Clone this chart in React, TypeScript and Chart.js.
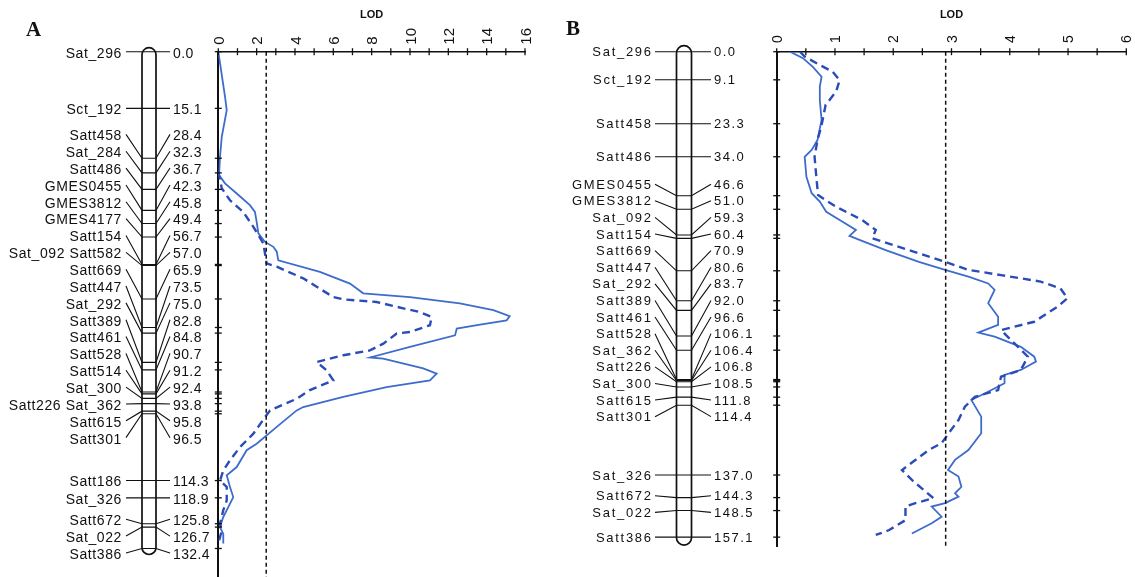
import React, { useEffect, useRef } from 'react';
import { Chart, registerables } from 'chart.js';

Chart.register(...registerables);

// ---------- Panel A data ----------
const markersA = ['Sat_296', 'Sct_192', 'Satt458', 'Sat_284', 'Satt486', 'GMES0455', 'GMES3812', 'GMES4177', 'Satt154', 'Sat_092 Satt582', 'Satt669', 'Satt447', 'Sat_292', 'Satt389', 'Satt461', 'Satt528', 'Satt514', 'Sat_300', 'Satt226 Sat_362', 'Satt615', 'Satt301', 'Satt186', 'Sat_326', 'Satt672', 'Sat_022', 'Satt386'];
const positionsA = [0.0, 15.1, 28.4, 32.3, 36.7, 42.3, 45.8, 49.4, 56.7, 57.0, 65.9, 73.5, 75.0, 82.8, 84.8, 90.7, 91.2, 92.4, 93.8, 95.8, 96.5, 114.3, 118.9, 125.8, 126.7, 132.4];

const aSolidCM = [0, 12.0, 15.6, 22.7, 28.0, 32.9, 35.1, 37.8, 40.9, 42.7, 45.3, 48.4, 50.7, 52.0, 53.3, 55.6, 58.7, 61.8, 64.4, 65.4, 67.1, 68.9, 70.5, 71.6, 72.9, 73.8, 75.6, 78.7, 81.5, 81.8, 84.4, 85.8, 87.6, 89.4, 92.0, 94.7, 95.6, 100.0, 104.5, 106.2, 110.7, 112.9, 116.0, 118.7, 121.4, 124.0, 126.7, 128.5, 131.1];
const aSolidLOD = [0, 0.35, 0.44, 0.18, 0.09, 0.04, 0.35, 0.96, 1.65, 1.91, 2.0, 2.09, 2.44, 2.87, 3.05, 3.13, 5.3, 6.87, 7.56, 10.0, 12.6, 14.35, 15.2, 15.04, 13.5, 12.44, 12.35, 10.0, 7.92, 8.6, 10.69, 11.39, 11.04, 8.78, 6.52, 4.43, 4.09, 3.05, 2.0, 1.48, 0.96, 0.44, 0.61, 0.78, 0.52, 0.26, 0.09, 0.26, 0.26];
const aDashCM = [32.0, 36.4, 39.6, 42.7, 46.7, 51.1, 56.4, 57.3, 60.4, 65.4, 66.0, 66.7, 68.4, 69.4, 70.7, 72.9, 74.7, 75.1, 77.8, 79.6, 80.9, 82.7, 84.9, 87.6, 90.2, 92.5, 95.6, 97.4, 101.8, 105.4, 108.9, 111.6, 114.3, 116.0, 119.6, 122.2, 125.8, 127.6, 131.1];
const aDashLOD = [0, 0.18, 0.61, 1.30, 1.83, 2.35, 2.52, 3.05, 4.43, 6.0, 6.52, 8.26, 9.65, 10.52, 11.13, 11.04, 10.0, 9.31, 8.61, 7.91, 6.52, 5.13, 5.65, 6.0, 4.78, 4.09, 2.70, 2.44, 1.83, 1.13, 0.61, 0.26, 0.09, 0.44, 0.44, 0.26, 0.09, 0.18, 0];
const thresholdA = 2.5;

// ---------- Panel B data ----------
const markersB = ['Sat_296', 'Sct_192', 'Satt458', 'Satt486', 'GMES0455', 'GMES3812', 'Sat_092', 'Satt154', 'Satt669', 'Satt447', 'Sat_292', 'Satt389', 'Satt461', 'Satt528', 'Sat_362', 'Satt226', 'Sat_300', 'Satt615', 'Satt301', 'Sat_326', 'Satt672', 'Sat_022', 'Satt386'];
const positionsB = [0.0, 9.1, 23.3, 34.0, 46.6, 51.0, 59.3, 60.4, 70.9, 80.6, 83.7, 92.0, 96.6, 106.1, 106.4, 106.8, 108.5, 111.8, 114.4, 137.0, 144.3, 148.5, 157.1];

const bSolidCM = [0, 2.1, 4.9, 8.1, 11.3, 15.6, 22.1, 28.6, 31.8, 34.0, 40.5, 45.8, 48.5, 51.8, 55.0, 57.7, 59.6, 60.9, 64.2, 68.0, 70.6, 72.8, 75.0, 77.1, 81.4, 85.8, 88.4, 90.9, 92.2, 95.5, 98.7, 100.3, 103.0, 104.6, 107.3, 110.6, 112.7, 118.1, 123.5, 128.9, 132.1, 135.4, 137.5, 140.8, 142.9, 144.0, 146.1, 147.2, 150.5, 152.6, 155.9];
const bSolidLOD = [0.23, 0.45, 0.62, 0.77, 0.74, 0.74, 0.77, 0.70, 0.60, 0.48, 0.51, 0.60, 0.74, 0.85, 1.13, 1.36, 1.25, 1.42, 1.87, 2.44, 2.89, 3.29, 3.63, 3.74, 3.63, 3.80, 3.80, 3.46, 3.74, 4.19, 4.42, 4.45, 4.19, 3.91, 3.91, 3.57, 3.34, 3.51, 3.51, 3.29, 3.06, 2.94, 3.12, 3.17, 3.06, 3.12, 2.89, 2.66, 2.83, 2.66, 2.32];
const bDashCM = [0, 1.6, 4.3, 6.5, 9.2, 12.9, 17.2, 23.8, 28.6, 34.0, 40.5, 46.4, 50.2, 54.5, 57.7, 60.4, 64.2, 68.0, 70.6, 72.3, 74.4, 76.6, 79.8, 82.5, 87.4, 90.1, 94.4, 98.7, 103.0, 105.2, 109.5, 111.7, 114.9, 119.2, 123.5, 126.7, 128.9, 135.4, 138.6, 141.3, 144.5, 146.1, 147.2, 151.6, 154.8, 156.4];
const bDashLOD = [0.40, 0.48, 0.74, 0.96, 1.08, 1.02, 0.84, 0.77, 0.70, 0.65, 0.68, 0.71, 1.02, 1.47, 1.70, 1.64, 2.27, 2.89, 3.29, 3.85, 4.53, 4.87, 4.99, 4.82, 4.42, 3.85, 4.08, 4.31, 4.19, 3.85, 3.80, 3.40, 3.23, 3.12, 2.95, 2.83, 2.61, 2.15, 2.32, 2.49, 2.69, 2.38, 2.21, 2.21, 1.93, 1.70];
const thresholdB = 2.9;

const FONT = '"Liberation Sans", Arial, sans-serif';
const SOLID = '#3e6ccc';
const DASH = '#2b4cb8';
const INK = '#111111';

// Spread overlapping labels into centred clusters
function spreadLabels(desired: number[], gap: number): number[] {
  let clusters = desired.map((_, i) => ({ s: i, e: i }));
  const topOf = (c: { s: number; e: number }) => (desired[c.s] + desired[c.e]) / 2 - ((c.e - c.s) * gap) / 2;
  let merged = true;
  while (merged) {
    merged = false;
    for (let i = 0; i < clusters.length - 1; i++) {
      const a = clusters[i];
      const b = clusters[i + 1];
      const aBottom = topOf(a) + (a.e - a.s) * gap;
      if (topOf(b) - aBottom < gap - 0.01) {
        clusters.splice(i, 2, { s: a.s, e: b.e });
        merged = true;
        break;
      }
    }
  }
  const out: number[] = new Array(desired.length);
  clusters.forEach((c) => {
    const t = topOf(c);
    for (let i = c.s; i <= c.e; i++) out[i] = t + (i - c.s) * gap;
  });
  return out;
}

type PanelCfg = {
  left: number; width: number;
  letter: string; letterX: number; letterY: number;
  names: string[]; positions: number[];
  solidCM: number[]; solidLOD: number[]; dashCM: number[]; dashLOD: number[];
  threshold: number; xMax: number; xStep: number; labelEvery: number; yMax: number;
  padLeft: number; padRight: number; padBottom: number; tickPad: number; tickSize: number; labelOffset: number;
  barX: number; barW: number; leftTextX: number; leftLineX: number; rightLineX: number; rightTextX: number;
  gap: number; fontSize: number; nameSpacing: number; numSpacing: number; textDy: number;
  capTop: number; capBottom: number;
};

function makeMapPlugin(p: PanelCfg) {
  return {
    id: 'linkageMap',
    afterDraw(chart: any) {
      const ctx = chart.ctx;
      const ys = chart.scales.y;
      const xs = chart.scales.x;
      const area = chart.chartArea;
      const seg = (x1: number, y1: number, x2: number, y2: number) => {
        ctx.beginPath(); ctx.moveTo(x1, y1); ctx.lineTo(x2, y2); ctx.stroke();
      };
      ctx.save();
      ctx.strokeStyle = INK;
      ctx.lineWidth = 1.3;
      xs.ticks.forEach((t: any) => {
        const px = xs.getPixelForValue(t.value);
        seg(px, area.top - 3.5, px, area.top + 3.5);
      });
      p.positions.forEach((v) => {
        const py = ys.getPixelForValue(v);
        seg(area.left - 3.5, py, area.left + 3.5, py);
      });

      // chromosome bar
      const markY = p.positions.map((v) => ys.getPixelForValue(v));
      const labelY = spreadLabels(markY, p.gap);
      const top = markY[0] - p.capTop;
      const bot = markY[markY.length - 1] + p.capBottom;
      const rad = p.barW / 2;
      const l = p.barX - rad;
      const r = p.barX + rad;
      ctx.lineWidth = 1.7;
      ctx.beginPath();
      ctx.moveTo(l, top + rad);
      ctx.arc(p.barX, top + rad, rad, Math.PI, 0);
      ctx.lineTo(r, bot - rad);
      ctx.arc(p.barX, bot - rad, rad, 0, Math.PI);
      ctx.closePath();
      ctx.stroke();

      ctx.lineWidth = 1.1;
      markY.forEach((my, i) => {
        const ly = labelY[i];
        ctx.beginPath();
        ctx.moveTo(p.leftLineX, ly);
        ctx.lineTo(l, my);
        ctx.lineTo(r, my);
        ctx.lineTo(p.rightLineX, ly);
        ctx.stroke();
      });

      ctx.fillStyle = INK;
      ctx.textBaseline = 'middle';
      ctx.font = `${p.fontSize}px ${FONT}`;
      ctx.letterSpacing = `${p.nameSpacing}px`;
      ctx.textAlign = 'right';
      p.names.forEach((n, i) => ctx.fillText(n, p.leftTextX, labelY[i] + p.textDy));
      ctx.letterSpacing = `${p.numSpacing}px`;
      ctx.textAlign = 'left';
      p.positions.forEach((v, i) => ctx.fillText(v.toFixed(1), p.rightTextX, labelY[i] + p.textDy));

      ctx.letterSpacing = '0px';
      ctx.font = `bold 21px "Liberation Serif", "Times New Roman", serif`;
      ctx.textBaseline = 'alphabetic';
      ctx.textAlign = 'left';
      ctx.fillText(p.letter, p.letterX, p.letterY);
      ctx.restore();
    },
  };
}

function Panel({ p }: { p: PanelCfg }) {
  const ref = useRef<HTMLCanvasElement>(null);
  useEffect(() => {
    const chart = new Chart(ref.current as HTMLCanvasElement, {
      type: 'scatter',
      data: {
        datasets: [
          {
            data: [{ x: p.threshold, y: 0 }, { x: p.threshold, y: p.yMax }],
            showLine: true, borderColor: INK, borderWidth: 1.5, borderDash: [4, 3], pointRadius: 0,
          },
          {
            data: p.dashCM.map((c, i) => ({ x: p.dashLOD[i], y: c })),
            showLine: true, borderColor: DASH, borderWidth: 2.4, borderDash: [8, 5], pointRadius: 0,
          },
          {
            data: p.solidCM.map((c, i) => ({ x: p.solidLOD[i], y: c })),
            showLine: true, borderColor: SOLID, borderWidth: 1.8, pointRadius: 0,
          },
        ],
      },
      options: {
        responsive: false,
        animation: false,
        events: [],
        layout: { padding: { left: p.padLeft, right: p.padRight, top: 0, bottom: p.padBottom } },
        plugins: { legend: { display: false }, tooltip: { enabled: false } },
        scales: {
          x: {
            type: 'linear', position: 'top', min: 0, max: p.xMax,
            ticks: {
              stepSize: p.xStep, autoSkip: false, minRotation: 90, maxRotation: 90, padding: p.tickPad,
              labelOffset: p.labelOffset,
              color: INK, font: { family: FONT, size: p.tickSize },
              callback: (v: any) => (Number.isInteger(v) && v % p.labelEvery === 0 ? String(v) : ''),
            },
            grid: { drawOnChartArea: false, drawTicks: false },
            border: { display: true, color: INK, width: 1.5 },
            title: { display: true, text: 'LOD', color: INK, font: { family: FONT, size: 11, weight: 'bold' }, padding: { top: 8, bottom: 0 } },
            afterFit: (s: any) => { s.height = 51.7; },
          },
          y: {
            type: 'linear', position: 'left', reverse: true, min: 0, max: p.yMax,
            afterBuildTicks: (s: any) => { s.ticks = p.positions.map((v) => ({ value: v })); },
            ticks: { display: false },
            grid: { drawOnChartArea: false, drawTicks: false },
            border: { display: true, color: INK, width: 2 },
            afterFit: (s: any) => { s.width = 2; },
          },
        },
      } as any,
      plugins: [makeMapPlugin(p)],
    });
    return () => chart.destroy();
  }, []);
  return (
    <canvas
      ref={ref}
      width={p.width}
      height={577}
      style={{ position: 'absolute', left: p.left, top: 0, width: p.width, height: 577 }}
    />
  );
}

const panelA: PanelCfg = {
  left: 0, width: 560, letter: 'A', letterX: 26, letterY: 36,
  names: markersA, positions: positionsA,
  solidCM: aSolidCM, solidLOD: aSolidLOD, dashCM: aDashCM, dashLOD: aDashLOD,
  threshold: thresholdA, xMax: 16, xStep: 1, labelEvery: 2, yMax: 140,
  padLeft: 216.3, padRight: 35, padBottom: 0, tickPad: 7, tickSize: 15, labelOffset: 19.5,
  barX: 149, barW: 14, leftTextX: 122, leftLineX: 126, rightLineX: 170, rightTextX: 173,
  gap: 16.85, fontSize: 14, nameSpacing: 0.6, numSpacing: 0.4, textDy: 2, capTop: 4, capBottom: 6,
};

const panelB: PanelCfg = {
  left: 560, width: 575, letter: 'B', letterX: 6, letterY: 35,
  names: markersB, positions: positionsB,
  solidCM: bSolidCM, solidLOD: bSolidLOD, dashCM: bDashCM, dashLOD: bDashLOD,
  threshold: thresholdB, xMax: 6, xStep: 0.5, labelEvery: 1, yMax: 160,
  padLeft: 214.7, padRight: 5.5, padBottom: 30.9, tickPad: 8.7, tickSize: 14, labelOffset: 18,
  barX: 124, barW: 15, leftTextX: 92.7, leftLineX: 95, rightLineX: 151, rightTextX: 154,
  gap: 16.6, fontSize: 13, nameSpacing: 1.7, numSpacing: 1.5, textDy: 1, capTop: 6, capBottom: 8,
};

export default function App() {
  return (
    <div style={{ position: 'absolute', left: 0, top: 0, width: 1135, height: 577, background: '#ffffff' }}>
      <Panel p={panelA} />
      <Panel p={panelB} />
    </div>
  );
}
